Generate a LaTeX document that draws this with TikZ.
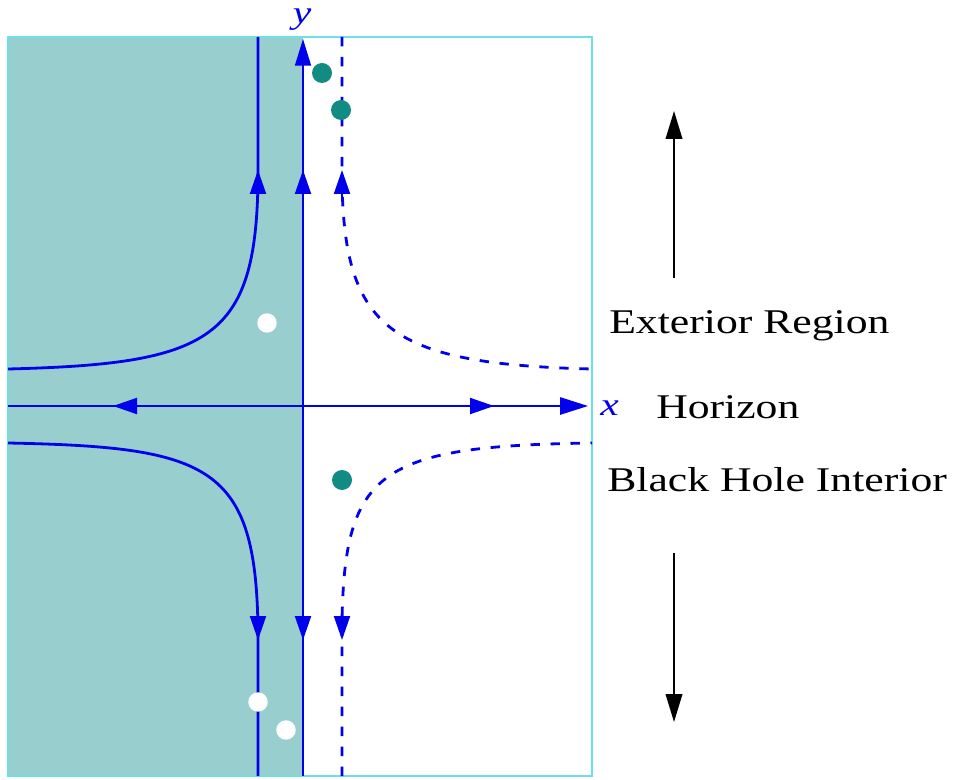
\documentclass[tikz,border=0pt]{standalone}
\usepackage{fontspec}
\setmainfont{Liberation Serif}
\usetikzlibrary{arrows.meta}
\definecolor{flowblue}{RGB}{0,0,235}
\definecolor{regionteal}{RGB}{152,206,206}
\definecolor{framecyan}{RGB}{110,225,230}
\definecolor{dotteal}{RGB}{16,140,130}
\tikzset{
  axisline/.style={flowblue, line width=1.3pt},
  solidflow/.style={flowblue, line width=2.1pt},
  dashflow/.style={flowblue, line width=2.1pt, dash pattern=on 7pt off 8pt},
  flowtip/.style={flowblue, line width=1.5pt, -{Triangle[length=18pt,width=12pt]}},
  bigtip/.style={black, line width=1.3pt, -{Triangle[length=21pt,width=12.5pt]}},
  tealdot/.style={fill=dotteal},
  whitedot/.style={fill=white},
  caption/.style={font=\fontsize{26}{30}\selectfont, inner sep=0pt, anchor=base west},
  axislabel/.style={font=\fontsize{24}{28}\selectfont\itshape, text=flowblue, inner sep=0pt}
}
\begin{document}
\begin{tikzpicture}[x=0.75pt, y=-0.75pt]
\useasboundingbox (0,0) rectangle (959,780);
% shaded interior region
\fill[regionteal] (8,37) rectangle (303,776);
% frame
\draw[framecyan, line width=1.5pt] (8,37) rectangle (592,776);
% hyperbolic trajectories
\draw[solidflow] (8,369) .. controls (210,364) and (256,340) .. (258,180) -- (258,37);
\draw[solidflow] (8,443) .. controls (210,447) and (256,465) .. (258,630) -- (258,776);
\draw[dashflow] (342,37) -- (342,180) .. controls (344,330) and (390,364) .. (592,369);
\draw[dashflow] (342,776) -- (342,620) .. controls (345,470) and (380,446) .. (592,443);
% axes
\draw[axisline, -{Triangle[length=21pt,width=13pt]}] (8,406) -- (588,406);
\draw[axisline, -{Triangle[length=20pt,width=12pt]}] (303,776) -- (303,39);
% flow arrows
\draw[flowtip] (258,197) -- (258,170);
\draw[flowtip] (303,197) -- (303,170);
\draw[flowtip] (342,197) -- (342,170);
\draw[flowtip] (258,612) -- (258,640);
\draw[flowtip] (303,612) -- (303,640);
\draw[flowtip] (342,612) -- (342,640);
\draw[flowtip] (141,406) -- (113,406);
\draw[flowtip] (466,406) -- (494,406);
% dots
\fill[tealdot] (322,73) circle (7.5pt);
\fill[tealdot] (341,110) circle (7.5pt);
\fill[tealdot] (342,480) circle (7.5pt);
\fill[whitedot] (267,323) circle (7.3pt);
\fill[whitedot] (258,702) circle (7.3pt);
\fill[whitedot] (286,730) circle (7.3pt);
% axis labels
\node[axislabel, anchor=base] (ylab) at (302,24) {\scalebox{1.3}[1]{y}};
\node[axislabel, anchor=base west] (xlab) at (600,415) {\scalebox{1.3}[1]{x}};
% captions
\node[caption] (ext) at (609,334) {\scalebox{1.26}[1]{Exterior Region}};
\node[caption] (hor) at (656,418) {\scalebox{1.26}[1]{Horizon}};
\node[caption] (bhi) at (607,491) {\scalebox{1.26}[1]{Black Hole Interior}};
% direction arrows
\coordinate (upfrom) at (674,278);
\coordinate (upto) at (674,111);
\coordinate (downfrom) at (674,553);
\coordinate (downto) at (674,722);
\draw[bigtip] (upfrom) -- (upto);
\draw[bigtip] (downfrom) -- (downto);
\end{tikzpicture}
\end{document}
